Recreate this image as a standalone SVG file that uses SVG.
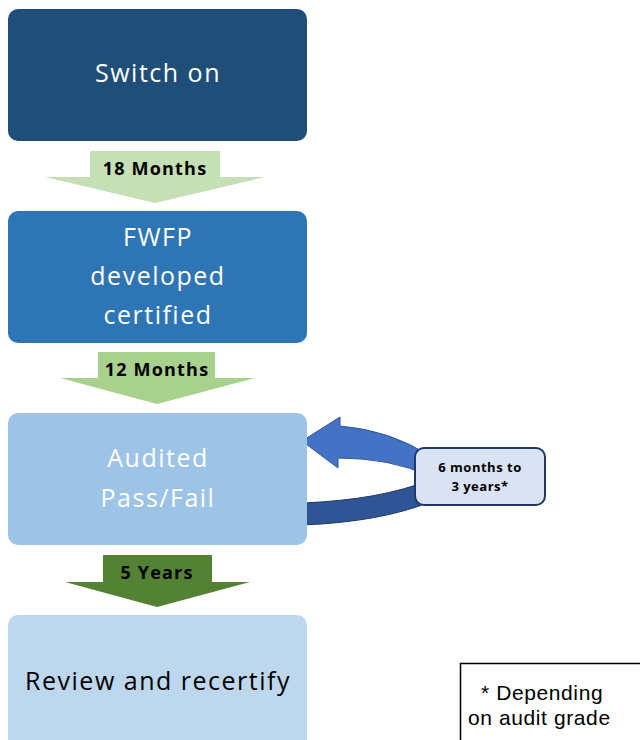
<svg xmlns="http://www.w3.org/2000/svg" width="640" height="740" viewBox="0 0 640 740">
<style>
.box{stroke:none}
.t{font-family:"Open Sans","Noto Sans",sans-serif;font-size:25px;letter-spacing:1.5px;text-anchor:middle}
.w{fill:#ffffff}
.lbl{font-family:"Open Sans","Noto Sans",sans-serif;font-size:18px;letter-spacing:1.2px;font-weight:bold;text-anchor:middle;fill:#000}
.sm{font-family:"Open Sans","Noto Sans",sans-serif;font-size:13px;letter-spacing:0.5px;font-weight:bold;text-anchor:middle;fill:#000}
.note{font-family:"Liberation Sans",Arial,sans-serif;font-size:21px;letter-spacing:0.6px;fill:#000}
</style>
<rect width="640" height="740" fill="#ffffff"/>
<g id="connectors">
<polygon points="90,151 220,151 220,177 265,177 155,203 45,177 90,177" fill="#C5E0B4"/>
<text class="lbl" x="155" y="175">18 Months</text>
<polygon points="98,352 215,352 215,378 255,378 157,404 60,378 98,378" fill="#A9D18E"/>
<text class="lbl" x="157" y="376">12 Months</text>
<polygon points="103,555 212,555 212,582 250,582 157,607 65,582 103,582" fill="#548235"/>
<text class="lbl" x="157" y="579">5 Years</text>
<path d="M302,441 L340,417 L340,426 Q390,430 430,456 L430,476 Q390,458 338,458 L338,468 Z" fill="#4472C4" stroke="#2F5597" stroke-width="1"/>
<path d="M302,503 Q380,500 430,480 L430,502 Q380,522 302,525 Z" fill="#2F5597" stroke="#203864" stroke-width="1"/>
</g>
<g id="switch-on">
<rect class="box" x="8" y="9" width="299" height="132" rx="10" fill="#1F4E79"/>
<text class="t w" x="158" y="82">Switch on</text>
</g>
<g id="fwfp">
<rect class="box" x="8" y="211" width="299" height="132" rx="10" fill="#2E75B6"/>
<text class="t w" x="158" y="246">FWFP</text>
<text class="t w" x="158" y="285">developed</text>
<text class="t w" x="158" y="324">certified</text>
</g>
<g id="audited">
<rect class="box" x="8" y="413" width="299" height="132" rx="10" fill="#9DC3E6"/>
<text class="t w" x="158" y="467">Audited</text>
<text class="t w" x="158" y="507">Pass/Fail</text>
</g>
<g id="review">
<rect class="box" x="8" y="615" width="299" height="135" rx="10" fill="#BDD7EE"/>
<text class="t" x="158" y="690" fill="#000">Review and recertify</text>
</g>
<g id="period">
<rect x="415" y="448" width="130" height="57" rx="9" fill="#DAE3F3" stroke="#1F3864" stroke-width="2"/>
<text class="sm" x="480" y="472">6 months to</text>
<text class="sm" x="480" y="491">3 years*</text>
</g>
<g id="note">
<rect x="460.5" y="663.5" width="190" height="90" fill="#ffffff" stroke="#000" stroke-width="1.5"/>
<text class="note" x="481" y="700">* Depending</text>
<text class="note" x="468" y="725">on audit grade</text>
</g>
</svg>
